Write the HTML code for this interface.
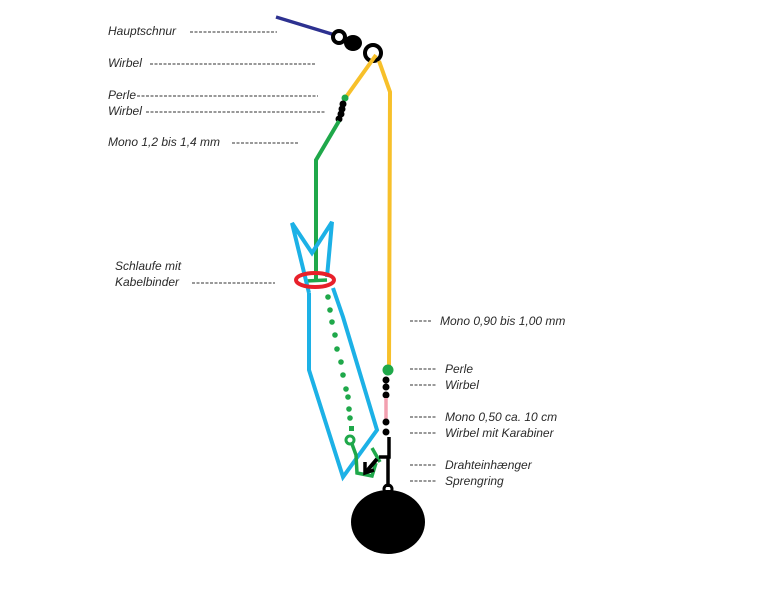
<!DOCTYPE html>
<html><head><meta charset="utf-8"><style>
html,body{margin:0;padding:0;background:#fff;}
svg{display:block;}
text{font-family:"Liberation Sans",sans-serif;font-style:italic;font-size:12px;fill:#2a2a2a;}
.d{stroke:#333;stroke-width:1;stroke-dasharray:3,1.5;}
</style></head><body>
<svg width="758" height="613" viewBox="0 0 758 613" xmlns="http://www.w3.org/2000/svg">
<rect width="758" height="613" fill="#fff"/>
<text x="108" y="35">Hauptschnur</text><line class="d" x1="190" y1="32" x2="277" y2="32"/>
<text x="108" y="67">Wirbel</text><line class="d" x1="150" y1="64" x2="315" y2="64"/>
<text x="108" y="99">Perle</text><line class="d" x1="137" y1="96" x2="318" y2="96"/>
<text x="108" y="115">Wirbel</text><line class="d" x1="146" y1="112" x2="326" y2="112"/>
<text x="108" y="146">Mono 1,2 bis 1,4 mm</text><line class="d" x1="232" y1="143" x2="299" y2="143"/>
<text x="115" y="270">Schlaufe mit</text>
<text x="115" y="286">Kabelbinder</text><line class="d" x1="192" y1="283" x2="275" y2="283"/>
<line class="d" x1="410" y1="321" x2="432" y2="321"/><text x="440" y="325">Mono 0,90 bis 1,00 mm</text>
<line class="d" x1="410" y1="369" x2="436" y2="369"/><text x="445" y="373">Perle</text>
<line class="d" x1="410" y1="385" x2="436" y2="385"/><text x="445" y="389">Wirbel</text>
<line class="d" x1="410" y1="417" x2="436" y2="417"/><text x="445" y="421">Mono 0,50 ca. 10 cm</text>
<line class="d" x1="410" y1="433" x2="436" y2="433"/><text x="445" y="437">Wirbel mit Karabiner</text>
<line class="d" x1="410" y1="465" x2="436" y2="465"/><text x="445" y="469">Drahteinhænger</text>
<line class="d" x1="410" y1="481" x2="436" y2="481"/><text x="445" y="485">Sprengring</text>

<line x1="276" y1="17" x2="335" y2="35" stroke="#2d3190" stroke-width="3.5"/>
<circle cx="339" cy="37" r="6" fill="none" stroke="#000" stroke-width="4"/>
<ellipse cx="353" cy="43" rx="9" ry="8" fill="#000"/>
<circle cx="373" cy="53" r="8" fill="none" stroke="#000" stroke-width="4"/>
<polyline points="376,55 346,97" fill="none" stroke="#f7c02a" stroke-width="4"/>
<polyline points="379,61 390,92 389,368" fill="none" stroke="#f7c02a" stroke-width="4"/>
<circle cx="345" cy="98" r="3.5" fill="#1fa84a"/>
<circle cx="343" cy="104" r="3.5" fill="#000"/>
<circle cx="342" cy="109" r="3.5" fill="#000"/>
<circle cx="341" cy="114" r="3.5" fill="#000"/>
<circle cx="339" cy="119" r="3.5" fill="#000"/>
<polyline points="339,121 316,160 316,282" fill="none" stroke="#1fa84a" stroke-width="4"/>
<line x1="306" y1="281" x2="327" y2="280" stroke="#1fa84a" stroke-width="3.5"/>
<polyline points="309,293 292,223 312,253 332,222 327,277" fill="none" stroke="#1cb1e6" stroke-width="4"/>
<polyline points="309,293 309,370 343,477 377,430 343,317 333,288" fill="none" stroke="#1cb1e6" stroke-width="4"/>
<ellipse cx="315" cy="280" rx="19" ry="7" fill="none" stroke="#e8202a" stroke-width="4"/>
<g fill="#1fa84a">
<circle cx="328" cy="297" r="2.8"/><circle cx="330" cy="310" r="2.8"/><circle cx="332" cy="322" r="2.8"/><circle cx="335" cy="335" r="2.8"/><circle cx="337" cy="349" r="2.8"/><circle cx="341" cy="362" r="2.8"/><circle cx="343" cy="375" r="2.8"/><circle cx="346" cy="389" r="2.8"/><circle cx="348" cy="397" r="2.8"/><circle cx="349" cy="409" r="2.8"/><circle cx="350" cy="418" r="2.8"/><rect x="349" y="426" width="5" height="5"/>
</g>
<circle cx="350" cy="440" r="4" fill="none" stroke="#1fa84a" stroke-width="3"/>
<polyline points="352,444 356,455 357,473 372,476 376,463" fill="none" stroke="#1fa84a" stroke-width="3.5"/>
<line x1="372" y1="448" x2="380" y2="462" stroke="#1fa84a" stroke-width="3.5"/>
<circle cx="388" cy="370" r="5.5" fill="#1fa84a"/>
<circle cx="386" cy="380" r="3.5" fill="#000"/><circle cx="386" cy="387" r="3.5" fill="#000"/><circle cx="386" cy="395" r="3.5" fill="#000"/>
<line x1="386" y1="398" x2="386" y2="420" stroke="#f2a0b0" stroke-width="3.5"/>
<circle cx="386" cy="422" r="3.5" fill="#000"/><circle cx="386" cy="432" r="3.5" fill="#000"/>
<polyline points="389,437 389,457 379,457" fill="none" stroke="#000" stroke-width="3.5"/>
<line x1="377" y1="459" x2="366" y2="472" stroke="#000" stroke-width="4"/>
<polyline points="365,462 365,473 374,470" fill="none" stroke="#000" stroke-width="3.5"/>
<line x1="388" y1="458" x2="388" y2="487" stroke="#000" stroke-width="3.5"/>
<circle cx="388" cy="489" r="4" fill="none" stroke="#000" stroke-width="3"/>
<path d="M378,494 Q388,486 398,494 Z" fill="#000"/>
<ellipse cx="388" cy="522" rx="37" ry="32" fill="#000"/>
</svg>
</body></html>
